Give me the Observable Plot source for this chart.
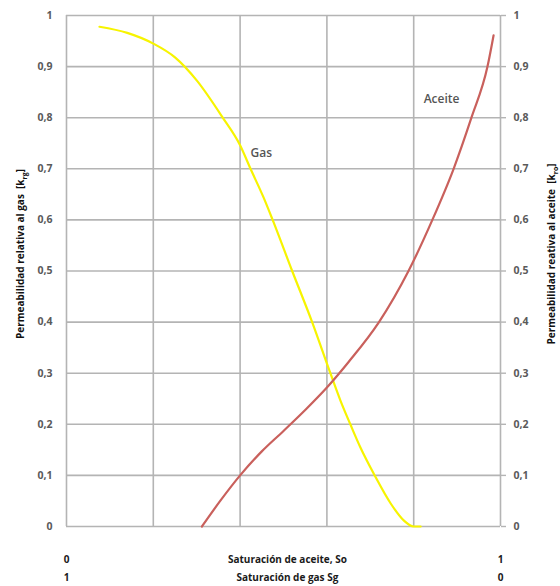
<!DOCTYPE html>
<html>
<head>
<meta charset="utf-8">
<script src="https://cdn.jsdelivr.net/npm/d3@7"></script>
<script src="https://cdn.jsdelivr.net/npm/@observablehq/plot@0.6"></script>
<style>
  html, body { margin: 0; padding: 0; background: #fff; }
  #chart { width: 560px; height: 586px; }
  svg { font-family: "Open Sans", "DejaVu Sans", sans-serif; }
</style>
</head>
<body>
<div id="chart"></div>
<script>
// Gas curve: oil saturation So vs relative permeability krg
const gasSo = [0.076, 0.14, 0.2, 0.25, 0.30, 0.36, 0.40, 0.424, 0.454, 0.475, 0.52, 0.566, 0.608, 0.631, 0.654, 0.677, 0.71, 0.747, 0.777, 0.80, 0.816];
const gasKr = [0.978, 0.966, 0.945, 0.918, 0.873, 0.80, 0.746, 0.70, 0.644, 0.60, 0.50, 0.40, 0.30, 0.247, 0.20, 0.155, 0.10, 0.045, 0.012, 0.0, 0.0];
// Oil curve: oil saturation So vs relative permeability kro
const oilSo = [0.312, 0.355, 0.40, 0.45, 0.50, 0.55, 0.60, 0.65, 0.72, 0.788, 0.843, 0.892, 0.933, 0.970, 0.984];
const oilKr = [0.0, 0.051, 0.10, 0.147, 0.187, 0.228, 0.272, 0.322, 0.40, 0.50, 0.60, 0.70, 0.80, 0.90, 0.961];
// Tick values
const yTicks = [0, 0.1, 0.2, 0.3, 0.4, 0.5, 0.6, 0.7, 0.8, 0.9, 1];
const xGrid = [0, 0.2, 0.4, 0.6, 0.8, 1];
// Labels
const curveLabels = [
  {x: 0.424, y: 0.73, text: "Gas"},
  {x: 0.823, y: 0.836, text: "Aceite"}
];
const bottomLabels = [
  {x: 0, row: 1, text: "0"},
  {x: 0, row: 2, text: "1"},
  {x: 1, row: 1, text: "1"},
  {x: 1, row: 2, text: "0"},
  {x: 0.509, row: 1, text: "Saturación de aceite, So"},
  {x: 0.509, row: 2, text: "Saturación de gas Sg"}
];

const gas = gasSo.map((s, i) => ({x: s, y: gasKr[i]}));
const oil = oilSo.map((s, i) => ({x: s, y: oilKr[i]}));
const fmt = d => String(d).replace(".", ",");
const gridColor = "#b4b4b4";
const tickColor = "#5a5a5a";

const chart = Plot.plot({
  width: 560,
  height: 586,
  marginLeft: 66,
  marginRight: 60,
  marginTop: 15,
  marginBottom: 60,
  x: {domain: [0, 1], axis: null},
  y: {domain: [0, 1], axis: null},
  marks: [
    Plot.gridY(yTicks, {stroke: gridColor, strokeOpacity: 1, strokeWidth: 1.6}),
    Plot.gridX(xGrid, {stroke: gridColor, strokeOpacity: 1, strokeWidth: 1.6}),
    Plot.axisY(yTicks, {anchor: "left", tickSize: 0, tickPadding: 14, tickFormat: fmt,
      fill: tickColor, fontSize: 10.5, fontWeight: "bold", label: null}),
    Plot.axisY(yTicks, {anchor: "right", tickSize: 5, tickPadding: 8, tickFormat: fmt,
      stroke: gridColor, strokeWidth: 1.4, fill: tickColor, fontSize: 10.5, fontWeight: "bold", label: null}),
    Plot.line(gas, {x: "x", y: "y", curve: "monotone-x", stroke: "#f7f400", strokeWidth: 2.2}),
    Plot.line(oil, {x: "x", y: "y", curve: "monotone-x", stroke: "#c9605c", strokeWidth: 2.2}),
    Plot.text(curveLabels, {x: "x", y: "y", text: "text", textAnchor: "start",
      fill: "#555", fontSize: 12, fontWeight: "600"}),
    Plot.text(bottomLabels.filter(d => d.row === 1), {x: "x", y: () => 0, text: "text", dy: 33,
      fill: "#1a1a1a", fontSize: 10, fontWeight: "bold"}),
    Plot.text(bottomLabels.filter(d => d.row === 2), {x: "x", y: () => 0, text: "text", dy: 51,
      fill: "#1a1a1a", fontSize: 10, fontWeight: "bold"})
  ]
});

document.getElementById("chart").appendChild(chart);

// Rotated axis titles with subscripts
const svg = d3.select(chart);
function vLabel(x, y, main, sub) {
  const t = svg.append("text")
    .attr("transform", `translate(${x},${y}) rotate(-90)`)
    .attr("text-anchor", "middle")
    .attr("font-size", 10)
    .attr("font-weight", "bold")
    .attr("fill", "#111");
  t.append("tspan").text(main + "  [k");
  t.append("tspan").attr("font-size", 7).attr("dy", 2.5).text(sub);
  t.append("tspan").attr("dy", -2.5).text("]");
}
vLabel(24, 254, "Permeabilidad relativa al gas", "rg");
vLabel(555, 254, "Permeabilidad reativa al aceite", "ro");
</script>
</body>
</html>
